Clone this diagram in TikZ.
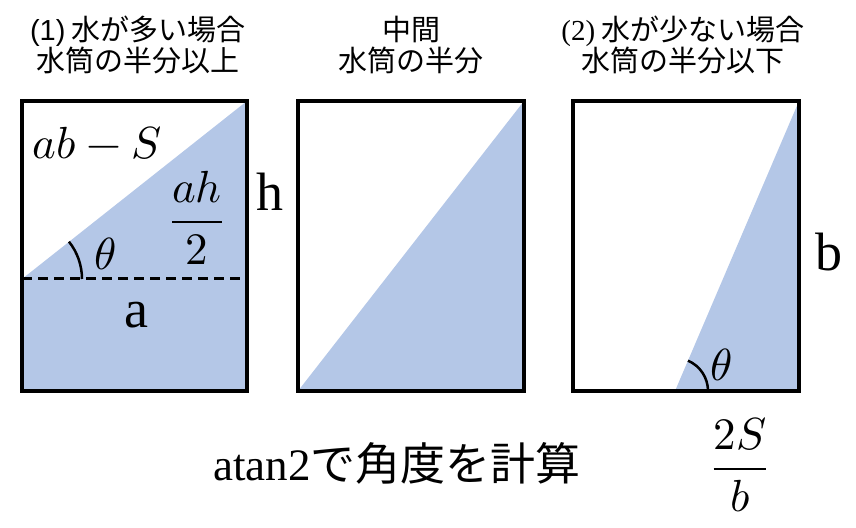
\documentclass[tikz,border=0pt]{standalone}
\usepackage{fontspec}
\usepackage{amsmath}
\usepackage{unicode-math}
\setmainfont{Liberation Serif}
\setmathfont{Latin Modern Math}
\newfontfamily\jpfont{Noto Sans CJK JP}
\newfontfamily\arialfont{Liberation Sans}
\definecolor{waterblue}{HTML}{B4C7E7}

\begin{document}
\begin{tikzpicture}[
  x=1pt, y=1pt,
  tank/.style={draw, line width=4pt},
  waterfill/.style={fill=waterblue},
  title/.style={font=\fontsize{29}{31}\selectfont\jpfont, align=center},
  side/.style={font=\fontsize{54}{60}\selectfont},
  formula/.style={font=\fontsize{45}{50}\selectfont},
  anglearc/.style={line width=2.5pt},
  level/.style={line width=3pt, dash pattern=on 10pt off 6pt}
]
\useasboundingbox (0,0) rectangle (856,527);

% 水筒の角
\coordinate (sw1) at (22,136);  \coordinate (ne1) at (247,426);
\coordinate (sw2) at (298,136); \coordinate (ne2) at (524,426);
\coordinate (sw3) at (573,136); \coordinate (ne3) at (799,426);
\coordinate (lvl1) at (22,248); \coordinate (lvr1) at (247,248);
\coordinate (foot3) at (675,136);

% 水の部分
\fill[waterfill] (sw1) -- (lvl1) -- (ne1) -- (sw1 -| ne1) -- cycle;
\fill[waterfill] (sw2) -- (ne2) -- (sw2 -| ne2) -- cycle;
\fill[waterfill] (foot3) -- (ne3) -- (sw3 -| ne3) -- cycle;

% 水位線と角度
\draw[level] (lvl1) -- (lvr1);
\draw[anglearc] ([shift={(0:60)}]lvl1) arc[start angle=0, end angle=38.5, radius=60];
\draw[anglearc] ([shift={(0:33)}]foot3) arc[start angle=0, end angle=66.8, radius=33];

% 水筒の枠
\draw[tank] (sw1) rectangle (ne1);
\draw[tank] (sw2) rectangle (ne2);
\draw[tank] (sw3) rectangle (ne3);

% 見出し
\node[title] (title1) at (138,482) {{\arialfont (1)} 水が多い場合\\水筒の半分以上};
\node[title] (title2) at (411,482) {中間\\水筒の半分};
\node[title] (title3) at (683,482) {{\rmfamily (2)} 水が少ない場合\\水筒の半分以下};

% ラベル
\node[formula] (rest1) at (97,384) {$ab - S$};
\node[formula] (tri1) at (197,309) {$\displaystyle\frac{ah}{2}$};
\node[formula] (theta1) at (105,273) {$\theta$};
\node[side] (a1) at (136,212) {a};
\node[side] (h1) at (270,335) {h};
\node[side] (b3) at (829,275) {b};
\node[formula] (theta3) at (721,162) {$\theta$};
\node[formula] (base3) at (740,62) {$\displaystyle\frac{2S}{b}$};

% 下の説明
\node[font=\fontsize{45}{50}\selectfont] (calc) at (397,64) {atan2{\jpfont で角度を計算}};

\end{tikzpicture}
\end{document}
